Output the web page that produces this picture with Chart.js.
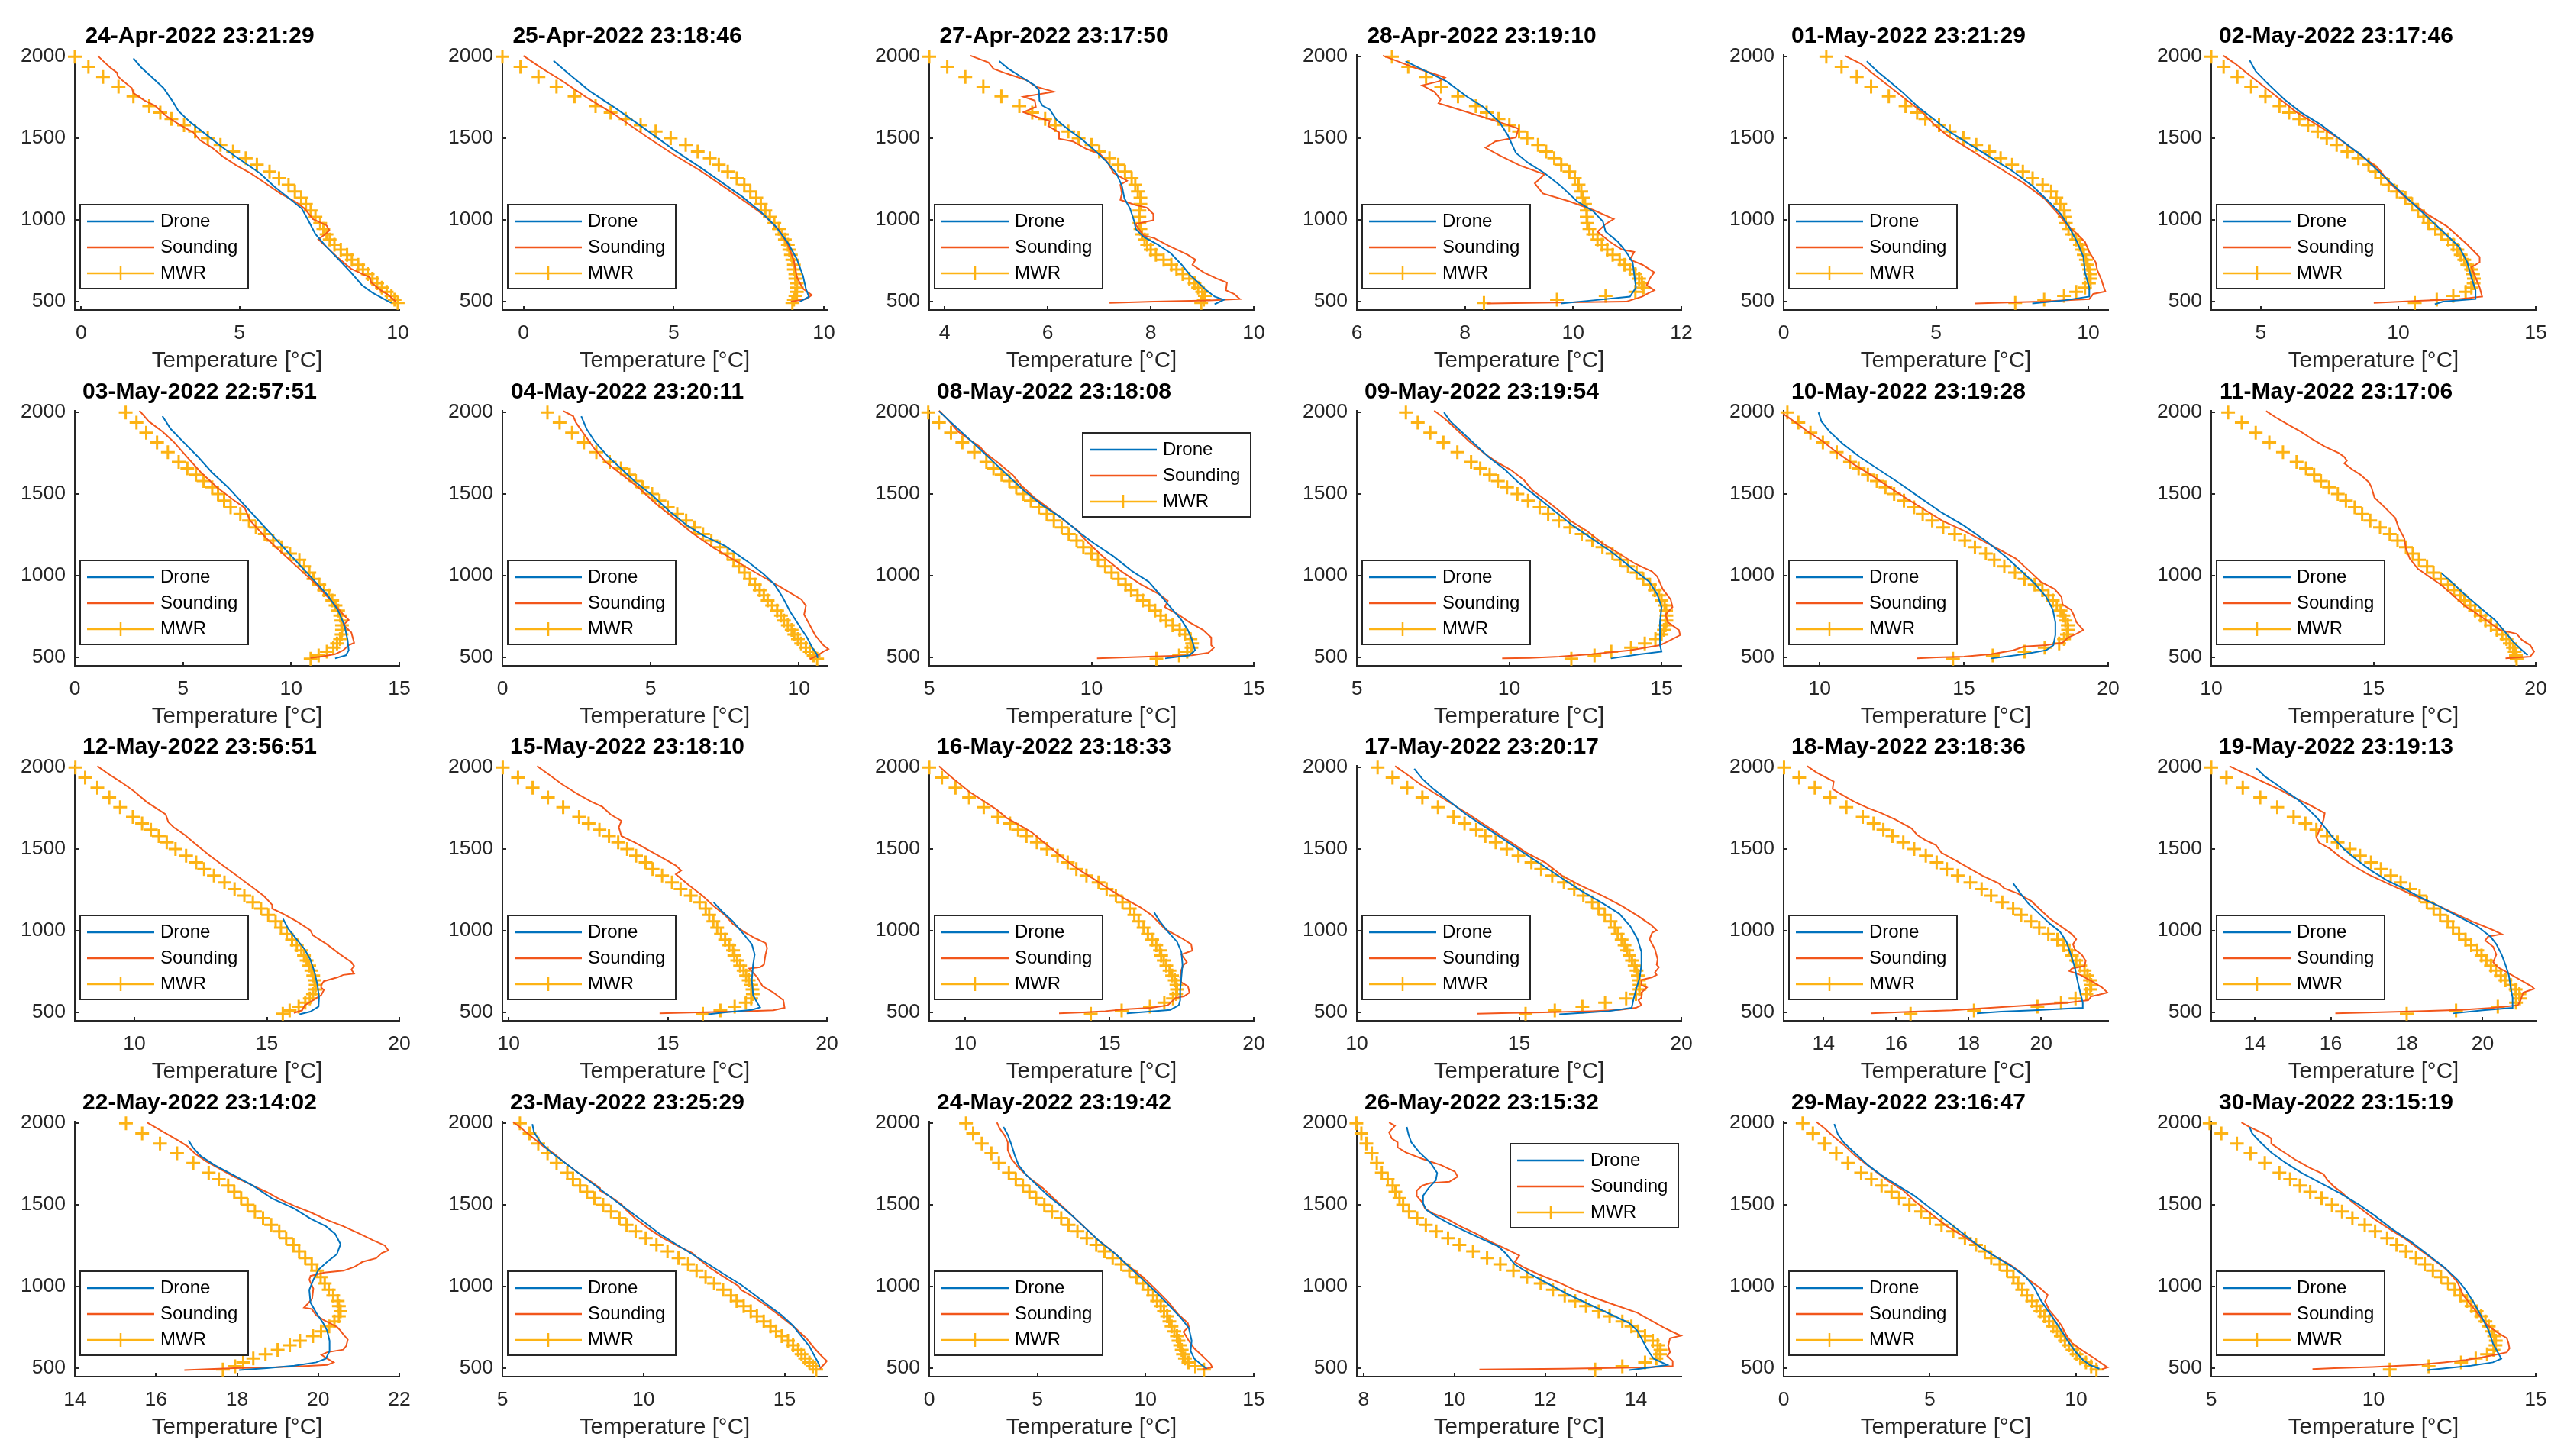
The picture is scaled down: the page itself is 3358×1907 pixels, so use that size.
<!DOCTYPE html>
<html>
<head>
<meta charset="utf-8">
<script src="https://cdn.jsdelivr.net/npm/chart.js@4.4.0/dist/chart.umd.min.js"></script>
<style>
  html, body { margin: 0; padding: 0; background: #fff; }
  #fig { position: relative; width: 3358px; height: 1907px; overflow: hidden; background: #fff; }
  #fig canvas { position: absolute; }
</style>
</head>
<body>
<div id="fig"></div>
<script>
// ============================================================
// Temperature profiles: drone vs sounding vs MWR, 24 evenings
// ============================================================

const titles = [
  '24-Apr-2022 23:21:29', '25-Apr-2022 23:18:46', '27-Apr-2022 23:17:50', '28-Apr-2022 23:19:10', '01-May-2022 23:21:29', '02-May-2022 23:17:46',
  '03-May-2022 22:57:51', '04-May-2022 23:20:11', '08-May-2022 23:18:08', '09-May-2022 23:19:54', '10-May-2022 23:19:28', '11-May-2022 23:17:06',
  '12-May-2022 23:56:51', '15-May-2022 23:18:10', '16-May-2022 23:18:33', '17-May-2022 23:20:17', '18-May-2022 23:18:36', '19-May-2022 23:19:13',
  '22-May-2022 23:14:02', '23-May-2022 23:25:29', '24-May-2022 23:19:42', '26-May-2022 23:15:32', '29-May-2022 23:16:47', '30-May-2022 23:15:19',
];

const seriesLabels = ['Drone', 'Sounding', 'MWR'];
const xLabel = 'Temperature [°C]';

const xMin = [-0.2, -0.7, 3.7, 6, 0, 3.2, 0, 0, 5, 5, 8.75, 10, 7.75, 9.8, 8.75, 10, 12.9, 12.85, 14, 5, 0, 7.85, 0, 5];
const xMax = [10.05, 10.1, 10, 12, 10.65, 15, 15, 10.95, 15, 15.65, 20, 20, 20, 20, 20, 20, 21.85, 21.4, 22, 16.5, 15, 15, 11.1, 15];
const xTicks = [
  [0, 5, 10], [0, 5, 10], [4, 6, 8, 10], [6, 8, 10, 12], [0, 5, 10], [5, 10, 15],
  [0, 5, 10, 15], [0, 5, 10], [5, 10, 15], [5, 10, 15], [10, 15, 20], [10, 15, 20],
  [10, 15, 20], [10, 15, 20], [10, 15, 20], [10, 15, 20], [14, 16, 18, 20], [14, 16, 18, 20],
  [14, 16, 18, 20, 22], [5, 10, 15], [0, 5, 10, 15], [8, 10, 12, 14], [0, 5, 10], [5, 10, 15],
];
const yMin = 449, yMax = 2010;
const yTicks = [500, 1000, 1500, 2000];

// legend corner per panel (sw = bottom left, ne = top right)
const legendCorner = ['sw', 'sw', 'sw', 'sw', 'sw', 'sw', 'sw', 'sw', 'ne', 'sw', 'sw', 'sw',
  'sw', 'sw', 'sw', 'sw', 'sw', 'sw', 'sw', 'sw', 'sw', 'ne', 'sw', 'sw'];

// MWR retrieval levels (m), shared by every panel
const mwrAlt = [2000, 1938, 1876, 1816, 1757, 1697, 1657, 1618, 1580, 1541, 1500, 1460, 1419, 1378, 1338, 1296, 1255, 1215, 1175, 1136,
  1097, 1058, 1019, 981, 945, 912, 880, 849, 818, 787, 756, 726, 697, 669, 641, 613, 586, 560, 535, 512, 492];

// MWR temperature (°C) at mwrAlt, one row per panel
const mwrT = [
  [-0.2, 0.23, 0.69, 1.18, 1.65, 2.15, 2.5, 2.85, 3.25, 3.6, 4.0, 4.4, 4.8, 5.2, 5.55, 5.95, 6.25, 6.55, 6.75, 6.95, 7.1, 7.25, 7.4, 7.55, 7.65, 7.75, 7.85, 8.0, 8.2, 8.4, 8.55, 8.75, 8.9, 9.05, 9.2, 9.35, 9.5, 9.65, 9.8, 9.9, 10.0],
  [-0.7, -0.1, 0.5, 1.1, 1.7, 2.4, 2.9, 3.4, 3.9, 4.4, 4.9, 5.4, 5.8, 6.2, 6.5, 6.8, 7.1, 7.35, 7.55, 7.75, 7.9, 8.05, 8.2, 8.35, 8.5, 8.6, 8.7, 8.8, 8.85, 8.9, 8.95, 9.0, 9.0, 9.05, 9.05, 9.1, 9.1, 9.1, 9.05, 9.0, 8.95],
  [3.7, 4.05, 4.4, 4.75, 5.1, 5.45, 5.7, 5.95, 6.15, 6.4, 6.6, 6.85, 7.0, 7.2, 7.37, 7.5, 7.63, 7.7, 7.75, 7.8, 7.8, 7.78, 7.78, 7.78, 7.8, 7.83, 7.88, 7.93, 8.0, 8.1, 8.25, 8.4, 8.5, 8.62, 8.75, 8.85, 8.92, 9.0, 9.05, 9.03, 8.98],
  [6.65, 6.95, 7.28, 7.56, 7.87, 8.2, 8.4, 8.62, 8.82, 9.0, 9.15, 9.35, 9.5, 9.65, 9.78, 9.93, 10.03, 10.1, 10.15, 10.18, 10.22, 10.25, 10.25, 10.26, 10.3, 10.37, 10.45, 10.53, 10.63, 10.73, 10.86, 10.95, 11.05, 11.15, 11.22, 11.27, 11.3, 11.15, 10.6, 9.7, 8.35],
  [1.4, 1.9, 2.4, 2.87, 3.45, 4.0, 4.38, 4.65, 5.1, 5.45, 5.9, 6.32, 6.75, 7.12, 7.5, 7.85, 8.17, 8.5, 8.78, 8.95, 9.08, 9.2, 9.22, 9.26, 9.35, 9.47, 9.6, 9.72, 9.8, 9.85, 9.92, 9.97, 10.03, 10.06, 10.07, 10.02, 9.89, 9.6, 9.2, 8.55, 7.6],
  [3.2, 3.65, 4.15, 4.65, 5.17, 5.68, 6.03, 6.4, 6.72, 7.07, 7.4, 7.76, 8.15, 8.55, 8.92, 9.17, 9.38, 9.65, 9.95, 10.26, 10.5, 10.72, 10.92, 11.1, 11.35, 11.57, 11.82, 12.0, 12.15, 12.27, 12.4, 12.51, 12.65, 12.72, 12.75, 12.74, 12.66, 12.45, 12.0, 11.4, 10.6],
  [2.35, 2.85, 3.3, 3.8, 4.3, 4.8, 5.2, 5.6, 5.95, 6.35, 6.62, 6.9, 7.2, 7.65, 8.05, 8.37, 8.78, 9.17, 9.55, 9.95, 10.38, 10.6, 10.84, 11.03, 11.3, 11.52, 11.75, 11.9, 12.05, 12.17, 12.27, 12.32, 12.35, 12.35, 12.33, 12.26, 12.12, 11.95, 11.65, 11.27, 10.9],
  [1.52, 1.93, 2.35, 2.75, 3.17, 3.62, 4.0, 4.28, 4.5, 4.73, 5.05, 5.3, 5.58, 5.9, 6.2, 6.48, 6.77, 7.05, 7.33, 7.6, 7.8, 7.98, 8.17, 8.35, 8.52, 8.68, 8.82, 8.95, 9.1, 9.27, 9.4, 9.5, 9.63, 9.76, 9.85, 9.97, 10.08, 10.24, 10.37, 10.5, 10.62],
  [4.97, 5.3, 5.67, 6.02, 6.39, 6.76, 6.98, 7.23, 7.47, 7.68, 7.9, 8.13, 8.38, 8.62, 8.84, 9.08, 9.3, 9.54, 9.75, 10.0, 10.2, 10.42, 10.62, 10.83, 11.05, 11.22, 11.42, 11.58, 11.78, 11.96, 12.13, 12.3, 12.5, 12.72, 12.88, 13.05, 13.1, 13.08, 12.95, 12.7, 12.0],
  [6.61, 7.0, 7.41, 7.84, 8.3, 8.75, 9.05, 9.36, 9.63, 9.93, 10.27, 10.62, 11.0, 11.28, 11.63, 12.0, 12.38, 12.73, 13.06, 13.39, 13.65, 13.9, 14.18, 14.4, 14.62, 14.78, 14.92, 15.0, 15.1, 15.15, 15.16, 15.16, 15.13, 15.08, 15.0, 14.8, 14.45, 14.0, 13.35, 12.8, 12.04],
  [8.88, 9.26, 9.68, 10.11, 10.59, 11.05, 11.35, 11.67, 11.98, 12.28, 12.58, 12.92, 13.27, 13.57, 13.9, 14.28, 14.68, 15.03, 15.38, 15.76, 16.05, 16.4, 16.77, 17.1, 17.45, 17.72, 17.93, 18.08, 18.22, 18.35, 18.45, 18.52, 18.6, 18.61, 18.57, 18.47, 18.3, 17.8, 17.1, 16.0, 14.62],
  [10.52, 10.94, 11.37, 11.79, 12.21, 12.63, 12.92, 13.17, 13.38, 13.63, 13.9, 14.15, 14.42, 14.65, 14.9, 15.2, 15.5, 15.74, 16.0, 16.21, 16.4, 16.65, 16.85, 17.07, 17.3, 17.48, 17.68, 17.8, 17.98, 18.13, 18.3, 18.45, 18.62, 18.8, 18.97, 19.1, 19.2, 19.3, 19.35, 19.39, 19.41],
  [7.77, 8.14, 8.6, 9.05, 9.46, 9.94, 10.29, 10.62, 10.92, 11.22, 11.55, 11.95, 12.33, 12.63, 13.0, 13.4, 13.78, 14.15, 14.47, 14.78, 15.05, 15.33, 15.53, 15.75, 15.95, 16.13, 16.3, 16.4, 16.5, 16.6, 16.68, 16.75, 16.8, 16.84, 16.83, 16.74, 16.62, 16.45, 16.2, 15.86, 15.6],
  [9.81, 10.29, 10.75, 11.23, 11.71, 12.21, 12.51, 12.85, 13.15, 13.44, 13.72, 14.0, 14.3, 14.52, 14.82, 15.13, 15.4, 15.72, 16.0, 16.19, 16.3, 16.43, 16.55, 16.67, 16.8, 16.93, 17.05, 17.09, 17.18, 17.27, 17.38, 17.46, 17.54, 17.62, 17.66, 17.67, 17.62, 17.45, 17.1, 16.65, 16.1],
  [8.75, 9.19, 9.66, 10.13, 10.64, 11.13, 11.55, 11.83, 12.12, 12.48, 12.83, 13.2, 13.55, 13.85, 14.2, 14.62, 14.9, 15.22, 15.45, 15.7, 15.86, 16.01, 16.18, 16.33, 16.48, 16.62, 16.75, 16.79, 16.88, 16.97, 17.08, 17.17, 17.26, 17.32, 17.34, 17.31, 17.2, 16.9, 16.4, 15.42, 14.35],
  [10.64, 11.1, 11.55, 12.02, 12.5, 12.98, 13.32, 13.68, 13.96, 14.28, 14.62, 14.98, 15.38, 15.68, 16.02, 16.38, 16.7, 16.98, 17.25, 17.45, 17.64, 17.82, 17.95, 18.04, 18.16, 18.25, 18.33, 18.4, 18.48, 18.56, 18.62, 18.66, 18.69, 18.71, 18.71, 18.6, 18.3, 17.65, 16.95, 16.1, 15.2],
  [12.91, 13.33, 13.76, 14.18, 14.63, 15.08, 15.38, 15.65, 15.9, 16.2, 16.5, 16.82, 17.12, 17.4, 17.7, 18.05, 18.36, 18.62, 18.93, 19.23, 19.45, 19.72, 19.95, 20.2, 20.45, 20.62, 20.78, 20.85, 20.97, 21.08, 21.2, 21.28, 21.35, 21.38, 21.36, 21.25, 20.95, 20.55, 19.9, 18.15, 16.4],
  [12.85, 13.25, 13.68, 14.14, 14.59, 15.02, 15.33, 15.62, 15.9, 16.18, 16.5, 16.77, 17.06, 17.32, 17.58, 17.84, 18.09, 18.34, 18.53, 18.71, 18.88, 19.08, 19.22, 19.38, 19.55, 19.7, 19.86, 19.97, 20.1, 20.22, 20.35, 20.48, 20.6, 20.74, 20.87, 20.97, 20.98, 20.88, 20.4, 19.3, 18.0],
  [15.26, 15.66, 16.1, 16.52, 16.92, 17.3, 17.55, 17.78, 17.93, 18.1, 18.26, 18.44, 18.64, 18.84, 19.04, 19.21, 19.39, 19.53, 19.68, 19.84, 19.97, 20.06, 20.16, 20.26, 20.37, 20.48, 20.51, 20.55, 20.51, 20.4, 20.27, 20.07, 19.87, 19.55, 19.3, 19.0, 18.7, 18.4, 18.15, 17.95, 17.65],
  [5.62, 5.96, 6.27, 6.6, 6.92, 7.3, 7.5, 7.75, 8.0, 8.26, 8.57, 8.85, 9.15, 9.4, 9.72, 10.08, 10.46, 10.85, 11.24, 11.58, 11.88, 12.2, 12.5, 12.82, 13.1, 13.3, 13.55, 13.8, 14.02, 14.26, 14.5, 14.7, 14.9, 15.12, 15.3, 15.48, 15.6, 15.73, 15.88, 16.0, 16.12],
  [1.7, 2.03, 2.43, 2.87, 3.22, 3.68, 4.0, 4.33, 4.63, 4.94, 5.32, 5.67, 6.1, 6.44, 6.85, 7.28, 7.72, 8.1, 8.48, 8.88, 9.25, 9.58, 9.88, 10.12, 10.35, 10.53, 10.7, 10.85, 11.0, 11.1, 11.2, 11.33, 11.45, 11.52, 11.6, 11.67, 11.73, 11.82, 11.98, 12.3, 12.7],
  [7.84, 7.95, 8.06, 8.18, 8.29, 8.4, 8.53, 8.64, 8.7, 8.79, 8.87, 9.0, 9.18, 9.37, 9.6, 9.86, 10.11, 10.41, 10.72, 11.01, 11.3, 11.6, 11.9, 12.17, 12.43, 12.66, 12.9, 13.18, 13.42, 13.7, 13.9, 14.05, 14.2, 14.37, 14.48, 14.54, 14.53, 14.45, 14.2, 13.7, 13.1],
  [0.65, 1.0, 1.4, 1.8, 2.2, 2.65, 3.0, 3.35, 3.69, 3.95, 4.3, 4.7, 5.0, 5.4, 5.8, 6.2, 6.58, 6.88, 7.1, 7.39, 7.64, 7.86, 8.02, 8.16, 8.32, 8.5, 8.65, 8.78, 8.92, 9.08, 9.22, 9.35, 9.48, 9.62, 9.76, 9.88, 10.02, 10.15, 10.34, 10.52, 10.7],
  [4.95, 5.31, 5.79, 6.21, 6.65, 7.1, 7.43, 7.73, 8.05, 8.4, 8.72, 9.03, 9.35, 9.73, 10.05, 10.42, 10.71, 11.0, 11.31, 11.58, 11.83, 12.08, 12.3, 12.5, 12.68, 12.88, 13.02, 13.18, 13.32, 13.45, 13.55, 13.65, 13.72, 13.77, 13.76, 13.7, 13.5, 13.15, 12.7, 11.7, 10.5],
];

// drone profiles: [temperature °C, altitude m]
const droneProfiles = [
  [[1.65, 1990], [1.9, 1933], [2.25, 1871], [2.6, 1808], [2.9, 1723], [3.07, 1668], [3.45, 1598], [3.97, 1520], [4.48, 1442], [5.0, 1372], [5.64, 1287], [6.12, 1201], [6.63, 1123], [6.97, 1069], [7.15, 1006], [7.4, 913], [7.75, 835], [8.18, 749], [8.52, 679], [8.87, 601], [9.2, 555], [9.64, 508], [9.8, 492]],
  [[1.0, 1975], [1.6, 1880], [2.2, 1790], [3.1, 1680], [4.1, 1550], [5.0, 1430], [5.9, 1320], [6.6, 1230], [7.3, 1140], [7.9, 1050], [8.4, 960], [8.8, 860], [9.1, 760], [9.3, 660], [9.4, 580], [9.5, 530], [9.2, 500]],
  [[5.06, 1972], [5.24, 1925], [5.51, 1871], [5.75, 1824], [5.83, 1793], [5.84, 1731], [5.9, 1699], [6.04, 1676], [6.17, 1614], [6.38, 1559], [6.65, 1497], [6.91, 1427], [7.12, 1364], [7.33, 1287], [7.44, 1209], [7.49, 1131], [7.6, 1069], [7.68, 991], [7.71, 944], [7.86, 897], [8.13, 850], [8.39, 796], [8.6, 726], [8.76, 664], [8.92, 617], [9.08, 570], [9.24, 531], [9.42, 511], [9.24, 484]],
  [[6.9, 1972], [7.28, 1910], [7.66, 1848], [8.04, 1754], [8.34, 1692], [8.64, 1598], [8.79, 1520], [8.94, 1411], [9.17, 1349], [9.47, 1287], [9.77, 1209], [10.07, 1115], [10.37, 1053], [10.55, 991], [10.6, 928], [10.83, 866], [10.98, 804], [11.1, 741], [11.13, 664], [11.16, 586], [11.05, 531], [10.37, 508], [9.77, 489]],
  [[2.73, 1972], [3.07, 1910], [3.48, 1848], [3.88, 1785], [4.41, 1692], [4.95, 1614], [5.48, 1536], [6.15, 1458], [6.82, 1380], [7.49, 1302], [8.16, 1209], [8.69, 1115], [9.09, 1037], [9.36, 960], [9.63, 866], [9.84, 773], [9.89, 679], [10.03, 586], [10.03, 531], [9.22, 508], [8.16, 489]],
  [[4.59, 1980], [4.82, 1910], [5.27, 1832], [5.86, 1738], [6.45, 1660], [7.19, 1583], [7.93, 1489], [8.67, 1395], [9.26, 1302], [9.85, 1209], [10.44, 1115], [11.04, 1022], [11.63, 928], [12.22, 835], [12.51, 741], [12.66, 648], [12.81, 570], [12.81, 516], [11.63, 500], [11.33, 484]],
  [[4.05, 1977], [4.43, 1899], [5.06, 1813], [5.7, 1727], [6.33, 1634], [7.09, 1540], [7.85, 1431], [8.61, 1322], [9.37, 1213], [10.13, 1104], [10.89, 995], [11.65, 886], [12.15, 793], [12.46, 699], [12.61, 606], [12.66, 544], [12.53, 513], [12.03, 494]],
  [[2.66, 1977], [2.84, 1899], [3.12, 1821], [3.58, 1727], [4.04, 1650], [4.5, 1572], [5.05, 1494], [5.6, 1400], [6.24, 1307], [6.79, 1245], [7.52, 1182], [8.26, 1089], [8.81, 1011], [9.17, 949], [9.45, 871], [9.72, 777], [10.0, 699], [10.28, 622], [10.46, 559], [10.61, 520], [10.64, 497]],
  [[5.3, 2008], [5.64, 1945], [6.06, 1868], [6.48, 1790], [6.9, 1712], [7.4, 1618], [7.9, 1525], [8.49, 1431], [9.08, 1354], [9.66, 1260], [10.08, 1198], [10.67, 1120], [11.26, 1027], [11.76, 964], [12.1, 886], [12.43, 808], [12.77, 730], [12.97, 668], [13.1, 606], [13.19, 544], [13.02, 513], [12.27, 494]],
  [[7.86, 2000], [8.07, 1945], [8.43, 1883], [8.88, 1805], [9.32, 1727], [9.86, 1650], [10.3, 1572], [10.84, 1494], [11.46, 1400], [12.09, 1307], [12.71, 1229], [13.43, 1136], [14.05, 1042], [14.59, 964], [14.86, 886], [15.0, 808], [14.95, 715], [14.95, 637], [14.95, 575], [15.0, 536], [14.32, 520], [13.34, 494]],
  [[9.96, 2000], [10.06, 1945], [10.34, 1883], [10.82, 1805], [11.39, 1727], [12.05, 1650], [12.72, 1572], [13.48, 1478], [14.24, 1385], [15.0, 1307], [15.76, 1213], [16.43, 1120], [17.0, 1027], [17.47, 949], [17.85, 871], [18.08, 793], [18.17, 715], [18.17, 637], [18.1, 575], [17.85, 544], [17.09, 520], [15.95, 494]],
  [[17.1, 1014], [17.39, 964], [17.81, 886], [18.31, 801], [18.74, 730], [19.07, 653], [19.33, 590], [19.58, 544], [19.75, 513]],
  [[15.61, 1073], [15.81, 1011], [16.12, 949], [16.43, 886], [16.64, 824], [16.8, 746], [16.91, 668], [16.97, 590], [16.95, 536], [16.64, 505], [16.23, 489]],
  [[16.44, 1174], [16.7, 1120], [17.04, 1058], [17.38, 980], [17.64, 918], [17.73, 855], [17.68, 793], [17.64, 699], [17.68, 606], [17.81, 559], [17.9, 531], [17.64, 516], [16.79, 500], [16.27, 489]],
  [[16.55, 1112], [16.74, 1058], [17.02, 995], [17.34, 933], [17.49, 871], [17.53, 793], [17.49, 715], [17.45, 637], [17.45, 575], [17.4, 544], [17.11, 516], [16.36, 505], [15.6, 494]],
  [[11.77, 1992], [12.02, 1930], [12.36, 1868], [12.87, 1790], [13.37, 1712], [13.96, 1634], [14.55, 1556], [15.14, 1478], [15.73, 1400], [16.32, 1322], [16.91, 1245], [17.59, 1167], [18.09, 1104], [18.43, 1027], [18.65, 949], [18.77, 871], [18.77, 793], [18.72, 715], [18.6, 637], [18.52, 575], [18.47, 528], [17.76, 508], [16.91, 497], [16.24, 489]],
  [[19.23, 1291], [19.43, 1229], [19.65, 1167], [19.95, 1104], [20.25, 1042], [20.52, 995], [20.7, 933], [20.82, 855], [20.93, 777], [21.0, 699], [21.08, 622], [21.15, 559], [21.15, 528], [19.8, 513], [18.9, 505], [18.23, 494]],
  [[14.04, 1995], [14.26, 1945], [14.55, 1899], [14.83, 1852], [15.12, 1805], [15.41, 1743], [15.62, 1696], [15.84, 1634], [16.05, 1572], [16.34, 1502], [16.7, 1431], [17.06, 1369], [17.49, 1307], [17.92, 1260], [18.35, 1206], [18.85, 1151], [19.35, 1089], [19.86, 1027], [20.21, 964], [20.36, 918], [20.5, 855], [20.6, 793], [20.69, 730], [20.74, 653], [20.79, 590], [20.79, 528], [20.0, 513], [19.21, 494]],
  [[16.8, 1896], [16.91, 1852], [17.11, 1798], [17.45, 1743], [17.92, 1681], [18.39, 1618], [18.86, 1540], [19.41, 1478], [19.81, 1416], [20.19, 1369], [20.42, 1322], [20.55, 1260], [20.46, 1198], [20.22, 1151], [20.01, 1104], [19.88, 1042], [19.78, 980], [19.81, 902], [19.95, 840], [20.12, 777], [20.22, 730], [20.28, 668], [20.28, 606], [20.19, 559], [19.95, 536], [19.41, 516], [18.73, 500], [18.05, 489]],
  [[6.06, 1995], [6.12, 1945], [6.35, 1883], [6.73, 1821], [7.21, 1759], [7.69, 1696], [8.17, 1634], [8.65, 1572], [9.13, 1509], [9.62, 1447], [10.1, 1385], [10.58, 1322], [11.15, 1260], [11.73, 1198], [12.31, 1136], [12.88, 1073], [13.46, 1011], [13.94, 949], [14.42, 886], [14.9, 824], [15.29, 762], [15.58, 699], [15.87, 637], [16.06, 575], [16.21, 528], [16.25, 505]],
  [[3.43, 1977], [3.63, 1930], [3.8, 1868], [3.95, 1805], [4.13, 1743], [4.5, 1681], [5.0, 1618], [5.5, 1556], [6.08, 1494], [6.63, 1431], [7.25, 1354], [7.88, 1276], [8.63, 1198], [9.25, 1120], [9.88, 1042], [10.5, 964], [11.08, 886], [11.63, 808], [12.0, 746], [12.13, 668], [12.08, 606], [12.25, 559], [12.63, 516], [12.83, 497]],
  [[8.95, 1977], [8.99, 1930], [9.05, 1883], [9.23, 1821], [9.47, 1759], [9.62, 1696], [9.59, 1650], [9.43, 1603], [9.31, 1556], [9.31, 1509], [9.38, 1470], [9.59, 1431], [9.89, 1385], [10.25, 1338], [10.61, 1291], [10.97, 1245], [11.12, 1206], [11.33, 1136], [11.69, 1073], [12.11, 1011], [12.53, 949], [13.01, 886], [13.49, 824], [13.85, 777], [14.03, 730], [14.15, 668], [14.27, 606], [14.39, 559], [14.69, 520], [14.33, 505], [13.85, 489]],
  [[1.73, 1995], [1.86, 1930], [2.05, 1883], [2.42, 1821], [2.89, 1743], [3.35, 1681], [3.91, 1618], [4.47, 1556], [5.03, 1478], [5.59, 1400], [6.15, 1322], [6.7, 1245], [7.26, 1182], [7.82, 1120], [8.29, 1058], [8.57, 995], [8.79, 918], [9.03, 855], [9.27, 793], [9.5, 730], [9.72, 668], [9.96, 606], [10.24, 551], [10.47, 520], [10.8, 497]],
  [[6.18, 1977], [6.26, 1938], [6.52, 1883], [6.85, 1821], [7.28, 1759], [7.78, 1696], [8.37, 1634], [8.96, 1572], [9.55, 1502], [10.06, 1431], [10.56, 1354], [11.15, 1276], [11.66, 1198], [12.17, 1120], [12.59, 1042], [12.84, 980], [13.09, 902], [13.35, 808], [13.55, 730], [13.68, 653], [13.85, 590], [13.94, 559], [13.68, 536], [13.01, 516], [11.66, 489]],
];

// radiosonde profiles: [temperature °C, altitude m]
const soundingProfiles = [
  [[0.52, 2006], [0.7, 1972], [0.92, 1933], [1.13, 1902], [1.16, 1879], [1.3, 1855], [1.6, 1808], [1.65, 1777], [2.0, 1731], [2.34, 1699], [2.68, 1637], [3.11, 1583], [3.54, 1536], [3.75, 1489], [4.14, 1442], [4.48, 1388], [4.91, 1333], [5.34, 1287], [5.77, 1232], [6.29, 1162], [6.8, 1107], [7.06, 1069], [7.32, 1006], [7.75, 967], [7.84, 936], [7.71, 913], [7.49, 882], [7.75, 835], [8.09, 773], [8.52, 702], [9.12, 648], [9.16, 617], [9.46, 570], [9.72, 539], [9.94, 500]],
  [[0.0, 2005], [0.6, 1930], [1.3, 1850], [2.1, 1750], [3.0, 1650], [4.1, 1510], [5.0, 1400], [5.9, 1300], [6.7, 1200], [7.4, 1110], [8.0, 1030], [8.5, 940], [8.8, 850], [9.0, 750], [9.1, 650], [9.3, 580], [9.6, 540], [9.4, 515], [8.9, 500]],
  [[4.5, 2006], [4.85, 1964], [4.95, 1925], [5.22, 1894], [5.59, 1855], [5.77, 1816], [6.12, 1785], [5.53, 1754], [5.75, 1731], [5.77, 1692], [5.53, 1660], [5.8, 1629], [6.04, 1606], [6.01, 1575], [6.22, 1536], [6.22, 1497], [6.49, 1481], [6.75, 1435], [7.02, 1403], [7.17, 1349], [7.28, 1287], [7.54, 1240], [7.41, 1216], [7.44, 1162], [7.41, 1123], [7.7, 1092], [7.92, 1076], [8.05, 1037], [8.05, 998], [7.7, 975], [7.86, 905], [8.07, 889], [8.34, 843], [8.71, 788], [8.87, 757], [8.81, 726], [9.03, 679], [9.29, 640], [9.48, 617], [9.46, 570], [9.62, 547], [9.73, 516], [9.13, 508], [8.07, 500], [7.2, 492]],
  [[6.48, 2006], [6.75, 1972], [7.06, 1933], [7.43, 1894], [7.63, 1871], [7.51, 1848], [7.21, 1824], [7.43, 1785], [7.55, 1738], [7.51, 1715], [7.89, 1676], [8.49, 1614], [8.72, 1590], [8.99, 1559], [8.94, 1505], [8.56, 1481], [8.38, 1442], [8.64, 1395], [9.02, 1333], [9.47, 1279], [9.29, 1224], [9.44, 1162], [9.92, 1115], [10.37, 1061], [10.75, 1006], [10.6, 975], [10.45, 928], [10.68, 866], [10.9, 819], [11.13, 804], [11.05, 757], [11.28, 726], [11.5, 679], [11.43, 648], [11.36, 601], [11.5, 570], [11.36, 547], [11.28, 531], [10.98, 500], [9.17, 492], [8.41, 489]],
  [[2.0, 2006], [2.54, 1956], [2.94, 1894], [3.48, 1816], [4.01, 1738], [4.55, 1660], [4.95, 1583], [5.35, 1520], [5.88, 1458], [6.55, 1380], [7.22, 1302], [7.89, 1224], [8.56, 1131], [9.01, 1037], [9.28, 975], [9.55, 928], [9.89, 866], [10.03, 804], [10.24, 741], [10.29, 695], [10.43, 633], [10.51, 586], [10.56, 562], [10.16, 547], [10.03, 516], [8.42, 500], [6.28, 489]],
  [[3.64, 2006], [4.08, 1956], [4.53, 1894], [5.12, 1816], [5.71, 1738], [6.3, 1660], [7.04, 1583], [7.78, 1505], [8.52, 1411], [9.26, 1318], [9.7, 1224], [10.3, 1131], [11.04, 1037], [11.78, 960], [12.51, 850], [12.96, 773], [12.96, 741], [12.66, 710], [12.81, 648], [12.96, 586], [13.05, 531], [12.22, 516], [10.74, 505], [9.11, 492]],
  [[2.99, 2011], [3.42, 1945], [4.05, 1883], [4.56, 1821], [5.19, 1727], [5.82, 1634], [6.58, 1540], [7.34, 1463], [7.85, 1416], [8.1, 1338], [8.86, 1229], [9.62, 1135], [10.38, 1042], [11.14, 949], [11.9, 840], [12.41, 762], [12.66, 730], [12.41, 699], [12.78, 653], [12.91, 590], [12.66, 575], [12.41, 544], [12.03, 520], [11.39, 505], [10.89, 497]],
  [[2.06, 2008], [2.39, 1977], [2.48, 1938], [2.75, 1868], [3.12, 1774], [3.49, 1696], [4.04, 1618], [4.59, 1540], [5.14, 1447], [5.78, 1354], [6.42, 1260], [7.16, 1167], [7.89, 1089], [8.62, 1011], [9.36, 933], [10.09, 855], [10.24, 816], [10.18, 762], [10.37, 699], [10.55, 637], [10.83, 575], [11.0, 551], [10.83, 536], [10.64, 513], [10.37, 489]],
  [[5.3, 2011], [5.55, 1961], [5.89, 1883], [6.22, 1836], [6.56, 1790], [6.73, 1751], [7.1, 1696], [7.57, 1618], [7.82, 1556], [8.24, 1478], [8.66, 1416], [9.16, 1338], [9.58, 1276], [9.66, 1252], [9.92, 1198], [10.34, 1120], [10.92, 1027], [11.51, 949], [12.1, 886], [12.35, 847], [12.26, 808], [12.68, 762], [13.02, 715], [13.44, 668], [13.69, 622], [13.69, 575], [13.77, 559], [13.6, 528], [13.1, 513], [11.76, 505], [10.17, 494]],
  [[7.54, 2011], [7.89, 1961], [8.25, 1899], [8.7, 1821], [9.23, 1743], [9.59, 1696], [10.04, 1650], [10.48, 1587], [10.75, 1525], [11.2, 1463], [11.73, 1385], [12.0, 1338], [12.54, 1276], [13.07, 1198], [13.61, 1136], [14.14, 1073], [14.68, 1027], [14.86, 995], [15.04, 918], [15.3, 855], [15.36, 808], [15.13, 762], [15.21, 715], [15.57, 668], [15.61, 637], [15.21, 598], [14.95, 575], [13.96, 544], [12.71, 520], [11.64, 505], [10.66, 497], [9.77, 494]],
  [[8.73, 1992], [9.11, 1945], [9.58, 1883], [10.06, 1829], [10.63, 1751], [11.2, 1680], [11.77, 1618], [12.43, 1540], [13.1, 1463], [13.67, 1400], [14.24, 1338], [15.0, 1276], [15.67, 1213], [16.33, 1151], [16.81, 1104], [17.19, 1042], [17.66, 964], [18.14, 918], [18.38, 871], [18.42, 824], [18.71, 793], [18.8, 762], [18.9, 715], [19.14, 668], [18.9, 645], [18.61, 622], [18.42, 590], [17.85, 575], [17.09, 567], [16.71, 544], [15.95, 520], [15.0, 505], [14.05, 500], [13.38, 494]],
  [[11.69, 2008], [11.99, 1969], [12.33, 1930], [12.75, 1883], [13.17, 1829], [13.51, 1790], [13.93, 1751], [14.1, 1727], [14.18, 1704], [14.1, 1688], [14.35, 1650], [14.6, 1618], [14.86, 1572], [14.94, 1540], [15.03, 1478], [15.36, 1416], [15.67, 1354], [15.78, 1291], [15.95, 1229], [16.0, 1167], [16.12, 1104], [16.37, 1042], [16.71, 995], [17.05, 949], [17.42, 886], [17.81, 816], [18.23, 762], [18.57, 715], [18.9, 668], [19.41, 645], [19.58, 606], [19.83, 575], [19.95, 536], [19.83, 505], [19.07, 494]],
  [[8.6, 2008], [9.01, 1961], [9.53, 1907], [10.0, 1852], [10.45, 1790], [10.97, 1735], [11.18, 1712], [11.28, 1665], [11.48, 1634], [11.9, 1587], [12.35, 1525], [12.82, 1463], [13.34, 1400], [13.86, 1338], [14.37, 1276], [14.89, 1213], [15.2, 1159], [15.2, 1136], [15.61, 1104], [16.12, 1058], [16.64, 1003], [16.74, 972], [17.26, 918], [17.77, 855], [18.19, 808], [18.29, 785], [18.19, 762], [18.29, 738], [17.88, 730], [17.67, 715], [17.15, 691], [17.05, 668], [17.05, 653], [17.15, 637], [17.05, 606], [16.74, 575], [16.43, 544], [16.33, 513], [16.02, 497]],
  [[10.89, 2008], [11.23, 1961], [11.66, 1899], [12.17, 1836], [12.6, 1790], [12.94, 1759], [13.2, 1712], [13.54, 1673], [13.46, 1634], [13.54, 1580], [13.97, 1540], [14.39, 1494], [14.82, 1447], [15.25, 1400], [15.42, 1369], [15.25, 1346], [15.68, 1276], [16.1, 1213], [16.44, 1151], [16.79, 1097], [17.04, 1042], [17.38, 995], [17.73, 956], [18.07, 925], [18.12, 894], [18.07, 855], [18.02, 793], [17.9, 777], [17.56, 769], [17.81, 715], [17.98, 660], [18.32, 622], [18.63, 575], [18.67, 528], [18.32, 513], [17.13, 505], [15.93, 500], [14.74, 494]],
  [[9.09, 2008], [9.38, 1961], [9.75, 1907], [10.13, 1852], [10.6, 1798], [11.08, 1743], [11.45, 1689], [11.92, 1642], [12.3, 1603], [12.68, 1548], [13.0, 1502], [13.43, 1440], [13.91, 1377], [14.47, 1315], [14.94, 1260], [15.51, 1198], [16.08, 1143], [16.45, 1097], [16.92, 1011], [17.49, 956], [17.83, 918], [17.87, 879], [17.49, 855], [17.68, 808], [17.58, 793], [17.49, 762], [17.45, 715], [17.49, 684], [17.72, 660], [17.77, 622], [17.58, 598], [17.3, 590], [17.11, 559], [17.02, 544], [16.45, 528], [15.6, 520], [14.85, 508], [14.09, 500], [13.25, 494]],
  [[11.18, 2008], [11.52, 1961], [11.94, 1899], [12.45, 1836], [12.95, 1774], [13.46, 1712], [14.05, 1634], [14.64, 1556], [15.23, 1478], [15.82, 1416], [16.32, 1338], [16.91, 1276], [17.59, 1213], [18.18, 1151], [18.68, 1089], [19.07, 1035], [19.24, 1003], [19.1, 988], [19.02, 949], [19.19, 886], [19.27, 824], [19.24, 793], [19.31, 777], [19.19, 746], [19.24, 730], [19.1, 715], [18.77, 699], [18.77, 668], [18.94, 653], [18.77, 622], [18.77, 590], [18.68, 575], [18.77, 544], [18.6, 528], [18.09, 516], [17.25, 508], [15.73, 500], [14.72, 497], [13.71, 492]],
  [[13.55, 2008], [13.81, 1969], [14.07, 1938], [14.28, 1914], [14.25, 1868], [14.48, 1836], [14.85, 1790], [15.23, 1751], [15.6, 1720], [15.98, 1681], [16.43, 1626], [16.58, 1587], [16.8, 1556], [17.1, 1525], [17.25, 1478], [17.63, 1432], [18.0, 1385], [18.38, 1338], [18.83, 1291], [18.98, 1260], [19.35, 1229], [19.73, 1182], [19.95, 1136], [20.25, 1073], [20.55, 1027], [20.85, 980], [20.97, 949], [20.88, 918], [20.93, 886], [21.12, 855], [21.23, 816], [21.2, 785], [20.85, 769], [20.78, 754], [21.08, 730], [21.45, 684], [21.68, 653], [21.83, 622], [21.6, 609], [21.38, 598], [21.3, 575], [20.7, 559], [19.65, 544], [18.6, 528], [17.55, 513], [16.5, 505], [15.3, 494]],
  [[13.33, 2008], [13.61, 1977], [13.97, 1938], [14.33, 1899], [14.69, 1860], [15.05, 1813], [15.41, 1774], [15.66, 1743], [15.84, 1720], [15.81, 1681], [15.76, 1650], [15.69, 1611], [15.62, 1572], [15.69, 1540], [15.98, 1502], [16.27, 1447], [16.63, 1393], [16.98, 1346], [17.41, 1299], [17.85, 1252], [18.28, 1206], [18.71, 1167], [19.21, 1112], [19.71, 1058], [20.21, 1011], [20.5, 980], [20.14, 964], [20.07, 941], [20.28, 902], [20.36, 855], [20.28, 808], [20.4, 777], [20.64, 746], [21.0, 699], [21.29, 660], [21.36, 645], [21.07, 622], [21.0, 575], [20.93, 544], [20.28, 528], [19.42, 516], [18.28, 508], [17.13, 500], [16.12, 494]],
  [[15.78, 2005], [16.03, 1969], [16.3, 1930], [16.57, 1891], [16.77, 1860], [16.84, 1844], [16.97, 1813], [17.24, 1766], [17.58, 1720], [17.92, 1673], [18.32, 1626], [18.73, 1579], [19.07, 1533], [19.41, 1494], [19.81, 1455], [20.22, 1408], [20.62, 1369], [21.03, 1322], [21.36, 1283], [21.64, 1252], [21.73, 1221], [21.57, 1206], [21.43, 1174], [21.09, 1151], [20.89, 1120], [20.62, 1097], [20.15, 1086], [19.81, 1065], [19.78, 1042], [19.88, 988], [19.85, 925], [19.74, 894], [19.65, 871], [19.84, 863], [19.95, 824], [20.15, 793], [20.28, 777], [20.46, 754], [20.55, 730], [20.62, 707], [20.73, 676], [20.69, 637], [20.62, 614], [20.22, 598], [20.08, 583], [20.22, 559], [20.38, 536], [20.22, 520], [19.68, 513], [18.86, 505], [17.92, 500], [16.7, 489]],
  [[5.38, 2008], [5.67, 1969], [6.06, 1914], [6.44, 1860], [6.83, 1813], [7.21, 1759], [7.69, 1696], [8.08, 1650], [8.46, 1603], [8.46, 1587], [8.85, 1548], [9.23, 1502], [9.33, 1478], [9.71, 1416], [10.19, 1354], [10.67, 1299], [11.25, 1245], [11.73, 1206], [11.92, 1174], [12.31, 1120], [12.79, 1065], [13.37, 1003], [13.46, 980], [13.85, 941], [14.33, 886], [14.81, 824], [15.38, 746], [15.77, 684], [16.06, 622], [16.31, 575], [16.5, 544], [16.38, 520], [16.25, 497]],
  [[3.13, 2005], [3.25, 1969], [3.5, 1922], [3.63, 1883], [3.63, 1836], [3.8, 1782], [4.13, 1727], [4.63, 1665], [5.25, 1603], [5.75, 1540], [6.38, 1463], [7.0, 1385], [7.75, 1291], [8.5, 1213], [9.13, 1136], [9.88, 1058], [10.5, 980], [11.08, 902], [11.5, 832], [11.95, 777], [12.0, 754], [11.75, 723], [12.0, 668], [12.25, 622], [12.63, 575], [13.0, 528], [13.08, 505], [12.63, 494]],
  [[8.56, 2005], [8.69, 1984], [8.56, 1945], [8.62, 1907], [8.75, 1883], [8.75, 1852], [8.93, 1821], [9.29, 1782], [9.71, 1743], [10.01, 1704], [10.07, 1673], [9.89, 1642], [9.47, 1634], [9.29, 1618], [9.17, 1587], [9.17, 1556], [9.31, 1509], [9.35, 1478], [9.53, 1447], [9.83, 1416], [10.13, 1369], [10.49, 1322], [10.79, 1276], [11.15, 1229], [11.43, 1190], [11.33, 1151], [11.51, 1120], [11.87, 1073], [12.29, 1027], [12.65, 980], [13.07, 933], [13.55, 886], [14.03, 840], [14.33, 793], [14.63, 746], [14.99, 699], [14.75, 684], [14.71, 637], [14.75, 598], [14.69, 575], [14.81, 544], [14.81, 513], [14.21, 505], [12.41, 497], [10.55, 492]],
  [[1.12, 2008], [1.4, 1969], [1.68, 1922], [2.05, 1868], [2.42, 1805], [2.98, 1727], [3.54, 1650], [4.1, 1587], [4.47, 1525], [5.03, 1447], [5.59, 1369], [6.15, 1307], [6.7, 1245], [7.26, 1182], [7.73, 1136], [8.1, 1089], [8.38, 1042], [8.75, 995], [9.03, 949], [8.94, 910], [9.09, 855], [9.31, 808], [9.5, 762], [9.68, 699], [9.87, 653], [10.24, 606], [10.65, 559], [10.89, 528], [11.08, 505], [10.89, 494]],
  [[5.93, 2005], [6.18, 1977], [6.6, 1938], [6.85, 1907], [6.85, 1875], [7.19, 1829], [7.61, 1774], [8.04, 1727], [8.46, 1688], [8.59, 1650], [8.79, 1611], [9.05, 1572], [9.3, 1525], [9.6, 1478], [10.01, 1416], [10.48, 1354], [10.99, 1291], [11.41, 1229], [11.83, 1167], [12.25, 1104], [12.59, 1027], [12.76, 949], [13.01, 886], [13.26, 824], [13.52, 762], [13.85, 715], [14.11, 684], [14.16, 653], [14.19, 622], [14.11, 598], [13.77, 583], [13.35, 567], [12.84, 551], [12.17, 536], [11.32, 520], [9.97, 508], [8.79, 500], [8.12, 494]],
];

// ------------------------------------------------------------
// Style
// ------------------------------------------------------------
const PALETTE = {
  drone: '#0072BD',
  sounding: '#F2561B',
  mwr: '#FDB314',
  axis: '#262626',
  title: '#000000',
};
const FONT = '"Liberation Sans", Arial, Helvetica, sans-serif';

const PANEL_W = 621, PANEL_H = 500;          // canvas size, chart area centred
const COL_STEP = 559.5, ROW_STEP = 465.7;
const AREA = { left: 98, right: 523, top: 72, bottom: 406 };

const toXY = pts => pts.map(([x, y]) => ({ x, y }));
const plainTick = v => String(v);            // no thousands separator

// boxed legend drawn inside the axes, like the original
const boxLegend = {
  id: 'boxLegend',
  afterDatasetsDraw(chart, args, opts) {
    const { ctx, chartArea: a } = chart;
    const w = 220, h = 110;
    const x = opts.corner === 'ne' ? a.right - 4 - w : a.left + 7;
    const y = opts.corner === 'ne' ? a.top + 29 : a.bottom - 28 - h;
    ctx.save();
    ctx.fillStyle = '#fff';
    ctx.fillRect(x, y, w, h);
    ctx.strokeStyle = PALETTE.axis;
    ctx.lineWidth = 2;
    ctx.strokeRect(x, y, w, h);
    ctx.font = `24px ${FONT}`;
    ctx.textBaseline = 'middle';
    chart.data.datasets.forEach((ds, i) => {
      const cy = y + 22 + i * 34;
      ctx.strokeStyle = ds.borderColor;
      ctx.lineWidth = 2.5;
      ctx.beginPath();
      ctx.moveTo(x + 9, cy);
      ctx.lineTo(x + 97, cy);
      if (ds.pointStyle === 'cross') {
        ctx.moveTo(x + 53, cy - 9);
        ctx.lineTo(x + 53, cy + 9);
      }
      ctx.stroke();
      ctx.fillStyle = '#000';
      ctx.fillText(ds.label, x + 105, cy);
    });
    ctx.restore();
  },
};

function axisStyle() {
  return {
    grid: { drawOnChartArea: false, drawTicks: true, tickLength: -5, color: PALETTE.axis, lineWidth: 2 },
    border: { display: true, color: PALETTE.axis, width: 2 },
  };
}

function makePanel(i) {
  const canvas = document.createElement('canvas');
  canvas.width = PANEL_W;
  canvas.height = PANEL_H;
  canvas.style.left = `${Math.round((i % 6) * COL_STEP)}px`;
  canvas.style.top = `${Math.round(Math.floor(i / 6) * ROW_STEP)}px`;
  document.getElementById('fig').appendChild(canvas);

  const mwrPoints = mwrAlt.map((alt, k) => ({ x: mwrT[i][k], y: alt }));

  return new Chart(canvas, {
    type: 'scatter',
    data: {
      datasets: [
        { label: seriesLabels[0], data: toXY(droneProfiles[i]), showLine: true, borderColor: PALETTE.drone, borderWidth: 2, pointRadius: 0, clip: false },
        { label: seriesLabels[1], data: toXY(soundingProfiles[i]), showLine: true, borderColor: PALETTE.sounding, borderWidth: 2, pointRadius: 0, clip: false },
        { label: seriesLabels[2], data: mwrPoints, showLine: false, borderColor: PALETTE.mwr, pointStyle: 'cross',
          pointRadius: 9, pointBorderWidth: 3, pointBorderColor: PALETTE.mwr, clip: false },
      ],
    },
    options: {
      responsive: false,
      animation: false,
      devicePixelRatio: 1,
      layout: { padding: { left: 0, right: PANEL_W - AREA.right, top: 0, bottom: 0 } },
      plugins: {
        legend: { display: false },
        tooltip: { enabled: false },
        title: {
          display: true, text: titles[i], color: PALETTE.title,
          font: { family: FONT, size: 30, weight: 'bold' },
          padding: { top: 30, bottom: 6 },
        },
        boxLegend: { corner: legendCorner[i] },
      },
      scales: {
        x: {
          type: 'linear', position: 'bottom', min: xMin[i], max: xMax[i],
          afterBuildTicks: s => { s.ticks = xTicks[i].map(v => ({ value: v })); },
          afterFit: s => { s.height = PANEL_H - AREA.bottom; },
          ticks: { autoSkip: false, maxRotation: 0, padding: 20, color: PALETTE.axis, font: { family: FONT, size: 26.5 }, callback: plainTick },
          title: { display: true, text: xLabel, color: PALETTE.axis, font: { family: FONT, size: 29.5 }, padding: { top: 0, bottom: 9 } },
          ...axisStyle(),
        },
        y: {
          type: 'linear', position: 'left', min: yMin, max: yMax,
          afterBuildTicks: s => { s.ticks = yTicks.map(v => ({ value: v })); },
          afterFit: s => { s.width = AREA.left; },
          ticks: { autoSkip: false, padding: 17, color: PALETTE.axis, font: { family: FONT, size: 26.5 }, callback: plainTick },
          ...axisStyle(),
        },
      },
    },
    plugins: [boxLegend],
  });
}

titles.forEach((_, i) => makePanel(i));
</script>
</body>
</html>
